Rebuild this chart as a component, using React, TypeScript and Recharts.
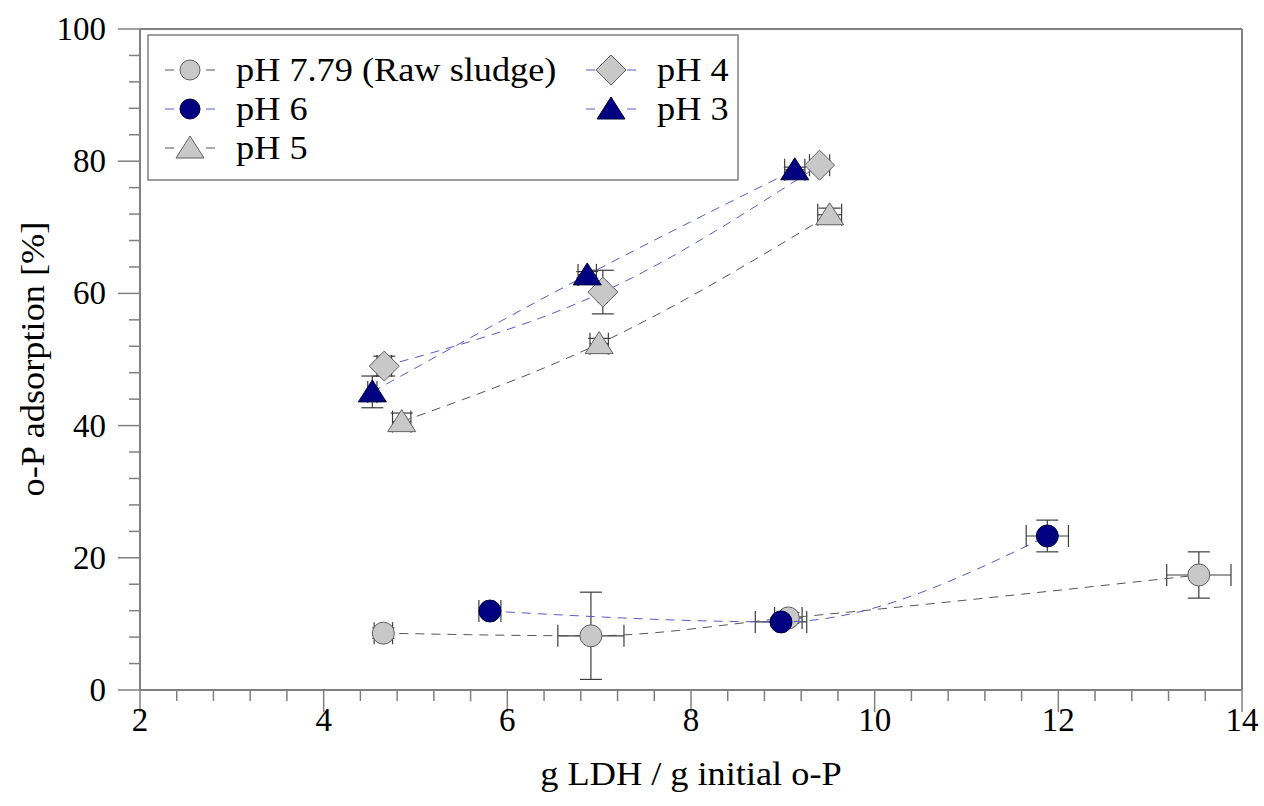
import React from "react";
import { ScatterChart, Scatter, XAxis, YAxis, ErrorBar, ReferenceLine } from "recharts";

// g LDH / g initial o-P  vs  o-P adsorption [%]
const rawX = [4.65, 6.91, 9.06, 13.53];
const rawY = [8.6, 8.2, 10.9, 17.4];
const rawXErr = [0.1, 0.36, 0.15, 0.35];
const rawYErr = [0.8, 6.6, 0.8, 3.5];

const ph6X = [5.81, 8.98, 11.88];
const ph6Y = [11.95, 10.3, 23.3];
const ph6XErr = [0.12, 0.28, 0.23];
const ph6YErr = [0.5, 0.5, 2.4];

const ph5X = [4.85, 7.0, 9.51];
const ph5Y = [40.6, 52.4, 71.9];
const ph5XErr = [0.1, 0.1, 0.13];
const ph5YErr = [1.3, 0.8, 1.0];

const ph4X = [4.66, 7.04, 9.4];
const ph4Y = [49.0, 60.2, 79.4];
const ph4XErr = [0.08, 0.05, 0.11];
const ph4YErr = [1.5, 3.3, 0.3];

const ph3X = [4.53, 6.87, 9.13];
const ph3Y = [45.1, 62.8, 78.7];
const ph3XErr = [0.05, 0.1, 0.11];
const ph3YErr = [2.4, 0.5, 0.4];

const xMajor = [2, 4, 6, 8, 10, 12, 14];
const yMajor = [0, 20, 40, 60, 80, 100];

const xTicks: number[] = [];
for (let i = 0; i <= 30; i++) xTicks.push(Math.round((2 + i * 0.4) * 10) / 10);
const yTicks: number[] = [];
for (let i = 0; i <= 25; i++) yTicks.push(i * 4);

const W = 1264;
const H = 806;
const FONT = "'Liberation Serif', 'Times New Roman', serif";
const AXIS = "#808080";
const NAVY = "#000080";
const GREY = "#c8c8c8";
const BLUE_LINE = "#5a5ac8";
const GREY_LINE = "#555555";
const FS = 33;
const STRETCH = 1.1;

const toRows = (xs: number[], ys: number[], xe: number[], ye: number[]) =>
  xs.map((x, i) => ({ x, y: ys[i], xErr: xe[i], yErr: ye[i] }));

type Kind = "circle" | "triangle" | "diamond";

function Marker({ cx, cy, kind, fill, r = 11 }: any) {
  const stroke = fill === NAVY ? "#000040" : "#606060";
  if (kind === "circle") return <circle cx={cx} cy={cy} r={r} fill={fill} stroke={stroke} strokeWidth={1} />;
  if (kind === "triangle")
    return (
      <polygon
        points={`${cx},${cy - 12} ${cx + 14},${cy + 10} ${cx - 14},${cy + 10}`}
        fill={fill}
        stroke={stroke}
        strokeWidth={1}
      />
    );
  return (
    <polygon
      points={`${cx},${cy - 15} ${cx + 15},${cy} ${cx},${cy + 15} ${cx - 15},${cy}`}
      fill={fill}
      stroke={stroke}
      strokeWidth={1}
    />
  );
}

const series: { name: string; kind: Kind; fill: string; line: string; data: any[] }[] = [
  { name: "pH 7.79 (Raw sludge)", kind: "circle", fill: GREY, line: GREY_LINE, data: toRows(rawX, rawY, rawXErr, rawYErr) },
  { name: "pH 6", kind: "circle", fill: NAVY, line: BLUE_LINE, data: toRows(ph6X, ph6Y, ph6XErr, ph6YErr) },
  { name: "pH 5", kind: "triangle", fill: GREY, line: GREY_LINE, data: toRows(ph5X, ph5Y, ph5XErr, ph5YErr) },
  { name: "pH 4", kind: "diamond", fill: GREY, line: BLUE_LINE, data: toRows(ph4X, ph4Y, ph4XErr, ph4YErr) },
  { name: "pH 3", kind: "triangle", fill: NAVY, line: BLUE_LINE, data: toRows(ph3X, ph3Y, ph3XErr, ph3YErr) },
];

// legend slots: [col x offset, row y] relative to legend box
const legendSlots = [
  [0, 35],
  [0, 74],
  [0, 113],
  [421, 35],
  [421, 74],
];

function XTick(props: any) {
  const { x, y, payload } = props;
  const v = payload.value;
  const major = xMajor.includes(v);
  return (
    <g>
      <line x1={x} x2={x} y1={y} y2={y + (major ? 22 : 11)} stroke={AXIS} strokeWidth={1.5} />
      {major && (
        <text x={x} y={y + 41} textAnchor="middle" fontSize={FS} fontFamily={FONT} fill="#000">
          {v}
        </text>
      )}
    </g>
  );
}

function YTick(props: any) {
  const { x, y, payload } = props;
  const v = payload.value;
  const major = yMajor.includes(v);
  return (
    <g>
      <line x1={x - (major ? 22 : 11)} x2={x} y1={y} y2={y} stroke={AXIS} strokeWidth={1.5} />
      {major && (
        <text x={x - 34} y={y + 11} textAnchor="end" fontSize={FS} fontFamily={FONT} fill="#000">
          {v}
        </text>
      )}
    </g>
  );
}

export default function App() {
  return (
    <div style={{ position: "relative", width: W, height: H, background: "#fff" }}>
      <style>{`body{margin:0}`}</style>
      <ScatterChart width={W} height={H} margin={{ top: 29, right: 22, left: 0, bottom: 0 }}>
        <XAxis
          type="number"
          dataKey="x"
          domain={[2, 14]}
          ticks={xTicks}
          interval={0}
          tickSize={0}
          tickMargin={0}
          tickLine={false}
          tick={(p: any) => <XTick {...p} />}
          axisLine={{ stroke: AXIS, strokeWidth: 2 }}
          height={116}
          allowDataOverflow
        />
        <YAxis
          type="number"
          dataKey="y"
          domain={[0, 100]}
          ticks={yTicks}
          interval={0}
          tickSize={0}
          tickMargin={0}
          tickLine={false}
          tick={(p: any) => <YTick {...p} />}
          axisLine={{ stroke: AXIS, strokeWidth: 2 }}
          width={140}
          allowDataOverflow
        />
        <ReferenceLine y={100} stroke={AXIS} strokeWidth={2} />
        <ReferenceLine x={14} stroke={AXIS} strokeWidth={2} />
        {series.map((s) => (
          <Scatter
            key={s.name}
            name={s.name}
            data={s.data}
            line={{ stroke: s.line, strokeWidth: 1, strokeDasharray: "9 7" }}
            lineJointType="monotoneX"
            shape={(p: any) => <Marker cx={p.cx} cy={p.cy} kind={s.kind} fill={s.fill} />}
            isAnimationActive={false}
          />
        ))}
        {series.map((s) => (
          <Scatter
            key={s.name + "-err"}
            data={s.data}
            shape={() => <g />}
            legendType="none"
            isAnimationActive={false}
          >
            <ErrorBar dataKey="xErr" direction="x" width={11} stroke="#3c3c3c" strokeWidth={1.2} />
            <ErrorBar dataKey="yErr" direction="y" width={11} stroke="#3c3c3c" strokeWidth={1.2} />
          </Scatter>
        ))}
      </ScatterChart>

      <svg width={W} height={H} style={{ position: "absolute", left: 0, top: 0, pointerEvents: "none" }}>
        <g transform="translate(148,35)">
          <rect x={0} y={0} width={590} height={145} fill="#fff" stroke={AXIS} strokeWidth={1.5} />
          {series.map((s, i) => {
            const [ox, cy] = legendSlots[i];
            const mx = ox + 42;
            return (
              <g key={s.name}>
                <line x1={mx - 25} x2={mx - 16} y1={cy} y2={cy} stroke={s.line} strokeWidth={1} />
                <line x1={mx + 16} x2={mx + 25} y1={cy} y2={cy} stroke={s.line} strokeWidth={1} />
                <Marker cx={mx} cy={cy} kind={s.kind} fill={s.fill} r={10} />
                <text
                  transform={`translate(${ox + 88},${cy + 11}) scale(${STRETCH},1)`}
                  fontSize={FS}
                  fontFamily={FONT}
                  fill="#000"
                >
                  {s.name}
                </text>
              </g>
            );
          })}
        </g>
        <text
          transform={`translate(691,785) scale(${STRETCH},1)`}
          textAnchor="middle"
          fontSize={FS}
          fontFamily={FONT}
          fill="#000"
        >
          g LDH / g initial o-P
        </text>
        <text
          transform={`translate(44,359) rotate(-90) scale(${STRETCH},1)`}
          textAnchor="middle"
          fontSize={FS}
          fontFamily={FONT}
          fill="#000"
        >
          o-P adsorption [%]
        </text>
      </svg>
    </div>
  );
}
